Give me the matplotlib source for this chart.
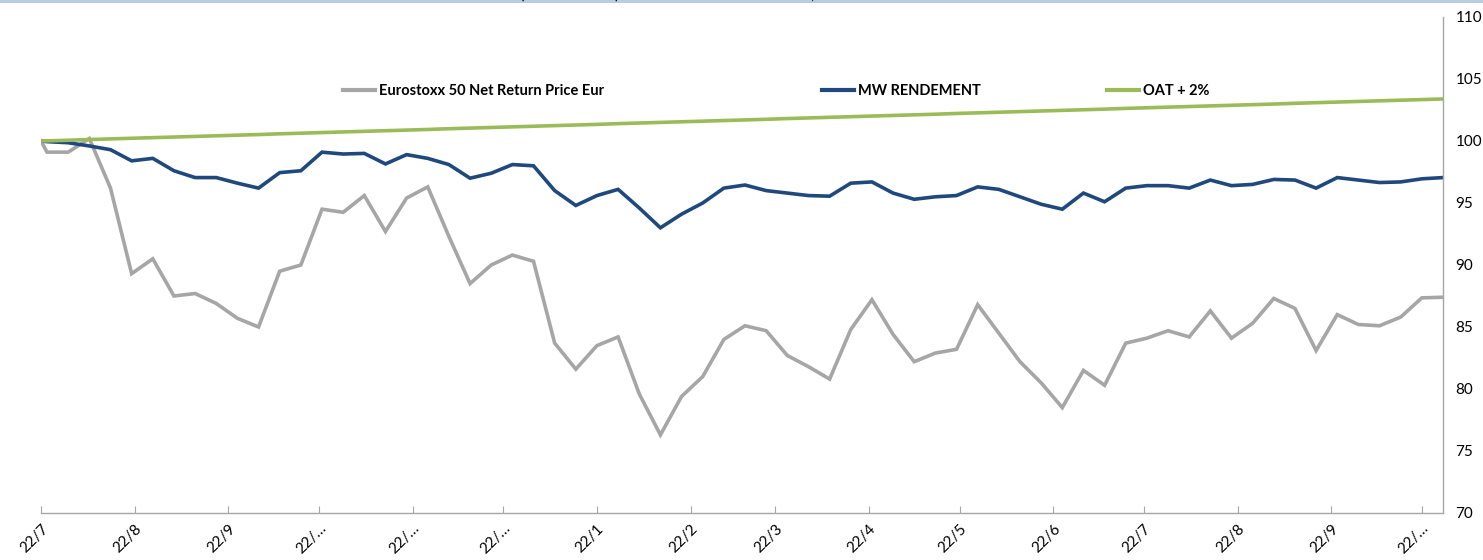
import numpy as np
import pandas as pd
import matplotlib
matplotlib.use('Agg')
import matplotlib.pyplot as plt
import matplotlib.dates as mdates
from matplotlib.lines import Line2D
from matplotlib.patches import Rectangle

# weekly points: first on 22/7/2022, then every Sunday up to 29/10/2023
dates = [pd.Timestamp('2022-07-22')] + list(pd.date_range('2022-07-24', periods=67, freq='7D'))

eurostoxx = [100.0, 99.1, 99.1, 100.2, 96.2, 89.3, 90.5, 87.5, 87.7, 86.9,
             85.7, 85.0, 89.5, 90.0, 94.5, 94.25, 95.6, 92.7, 95.4, 96.3,
             92.3, 88.5, 90.0, 90.8, 90.3, 83.7, 81.6, 83.5, 84.2, 79.6,
             76.3, 79.4, 81.0, 84.0, 85.1, 84.7, 82.7, 81.8, 80.8, 84.8,
             87.2, 84.4, 82.2, 82.9, 83.2, 86.8, 84.5, 82.2, 80.5, 78.5,
             81.5, 80.3, 83.7, 84.1, 84.7, 84.2, 86.3, 84.1, 85.3, 87.3,
             86.5, 83.1, 86.0, 85.2, 85.1, 85.8, 87.35, 87.4]

mw_rendement = [100.0, 99.95, 99.86, 99.6, 99.3, 98.4, 98.6, 97.6, 97.05, 97.05,
                96.6, 96.2, 97.45, 97.6, 99.1, 98.95, 99.0, 98.15, 98.9, 98.6,
                98.1, 97.0, 97.4, 98.1, 98.0, 96.0, 94.8, 95.6, 96.1, 94.6,
                93.0, 94.1, 95.0, 96.2, 96.45, 96.0, 95.8, 95.6, 95.55, 96.6,
                96.7, 95.8, 95.3, 95.5, 95.6, 96.3, 96.1, 95.5, 94.9, 94.5,
                95.8, 95.1, 96.2, 96.4, 96.4, 96.2, 96.85, 96.4, 96.5, 96.9,
                96.85, 96.2, 97.05, 96.85, 96.65, 96.7, 96.95, 97.05]

oat_plus_2 = [100.00, 100.01, 100.06, 100.12, 100.17, 100.22, 100.27, 100.32, 100.37, 100.42,
              100.47, 100.52, 100.58, 100.63, 100.68, 100.73, 100.78, 100.83, 100.88, 100.93,
              100.99, 101.04, 101.09, 101.14, 101.19, 101.24, 101.29, 101.34, 101.40, 101.45,
              101.50, 101.55, 101.60, 101.65, 101.70, 101.75, 101.81, 101.86, 101.91, 101.96,
              102.01, 102.06, 102.11, 102.16, 102.22, 102.27, 102.32, 102.37, 102.42, 102.47,
              102.52, 102.57, 102.63, 102.68, 102.73, 102.78, 102.83, 102.88, 102.93, 102.98,
              103.04, 103.09, 103.14, 103.19, 103.24, 103.29, 103.34, 103.39]

series_names = ['Eurostoxx 50 Net Return Price Eur', 'MW RENDEMENT', 'OAT + 2%']
series_colors = ['#A6A6A6', '#1F497D', '#9BBB59']

plt.rcParams['font.family'] = ['Lato', 'DejaVu Sans']

W, H = 1483, 560
fig = plt.figure(figsize=(W / 100, H / 100), dpi=100)
ax = fig.add_axes([41 / W, 1 - 513 / H, (1443 - 41) / W, (513 - 17) / H])

for vals, name, col in zip([eurostoxx, mw_rendement, oat_plus_2], series_names, series_colors):
    ax.plot(dates, vals, color=col, linewidth=2.6, label=name, solid_joinstyle='miter')

ax.set_xlim(dates[0], dates[-1])
ax.set_ylim(70, 110)
ax.set_yticks(np.arange(70, 111, 5))

# y axis on the right, no tick marks
ax.yaxis.tick_right()
ax.tick_params(axis='y', length=0, pad=9, labelsize=11, labelcolor='#000000')
for s in ['left', 'top']:
    ax.spines[s].set_visible(False)
for s in ['right', 'bottom']:
    ax.spines[s].set_color('#A6A6A6')
    ax.spines[s].set_linewidth(1.0)

ax.xaxis.set_major_locator(mdates.MonthLocator(bymonthday=22))


def fmt_date(x, pos):
    d = mdates.num2date(x)
    if d.month >= 10:
        return f'{d.day}/\u2026'
    return f'{d.day}/{d.month}'


ax.xaxis.set_major_formatter(plt.FuncFormatter(fmt_date))
ax.tick_params(axis='x', direction='in', length=5, color='#A6A6A6', labelsize=11, pad=6)
for lbl in ax.get_xticklabels():
    lbl.set_rotation(45)
    lbl.set_ha('right')
    lbl.set_va('top')
    lbl.set_rotation_mode('anchor')

# legend: three separate entries spread across the top
handles = [Line2D([], [], color=c, linewidth=3) for c in series_colors]
leg_x = [343, 822, 1107]
for i, (h, name) in enumerate(zip(handles, series_names)):
    leg = fig.legend([h], [name], loc='center left',
                     bbox_to_anchor=(leg_x[i] / W, 1 - 91 / H),
                     frameon=False, handlelength=2.2, handletextpad=0.3,
                     borderpad=0, borderaxespad=0,
                     prop={'weight': 'bold', 'size': 10.5})

# light blue band on top with the bottom of a cut off title
fig.patches.append(Rectangle((0, 1 - 3 / H), 1, 3 / H, transform=fig.transFigure,
                             facecolor='#B8CCE4', edgecolor='none'))
for ch, xp in zip(['(', ')', ','], [521, 617, 812]):
    fig.text(xp / W, 1 + 1 / H, ch, ha='center', va='baseline', fontsize=12, color='#000000')

fig.savefig('out.png', dpi=100)
